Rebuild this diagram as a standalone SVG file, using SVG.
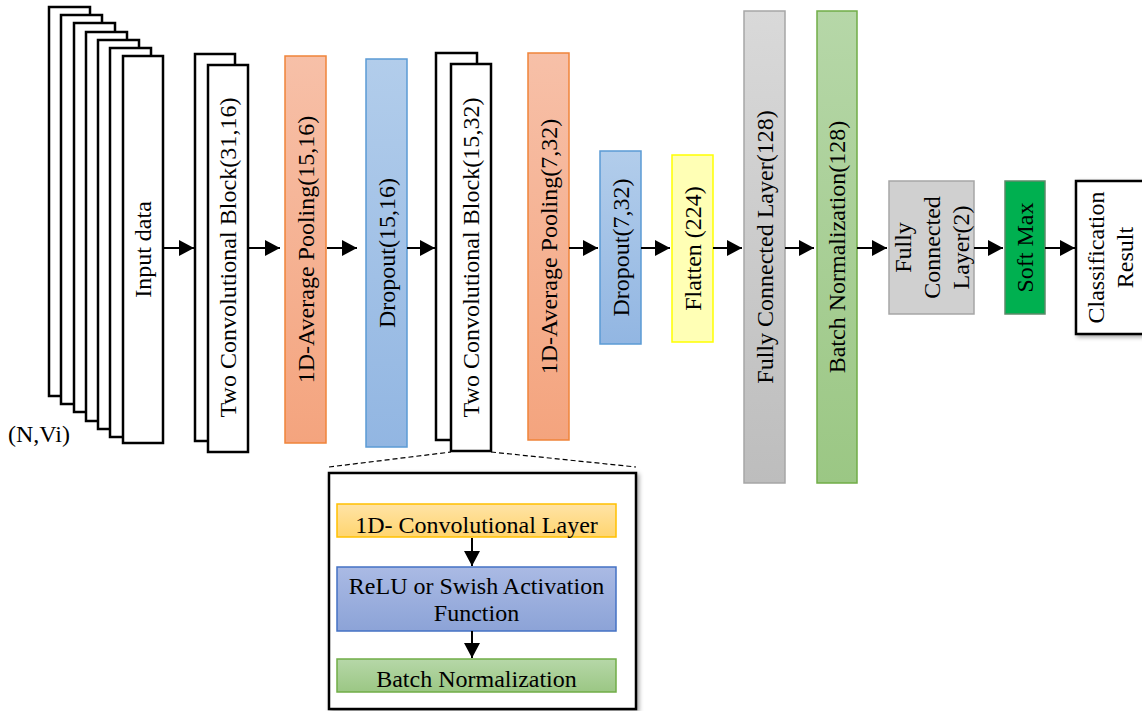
<svg xmlns="http://www.w3.org/2000/svg" width="1142" height="711" viewBox="0 0 1142 711">
<defs>
<linearGradient id="gSal" x1="0" y1="0" x2="0" y2="1"><stop offset="0" stop-color="#F7C0A8"/><stop offset="1" stop-color="#F4A47E"/></linearGradient>
<linearGradient id="gBlue" x1="0" y1="0" x2="0" y2="1"><stop offset="0" stop-color="#B2CDEB"/><stop offset="1" stop-color="#92B6E2"/></linearGradient>
<linearGradient id="gGray" x1="0" y1="0" x2="0" y2="1"><stop offset="0" stop-color="#D9D9D9"/><stop offset="1" stop-color="#BDBDBD"/></linearGradient>
<linearGradient id="gGreen" x1="0" y1="0" x2="0" y2="1"><stop offset="0" stop-color="#B6D7A8"/><stop offset="1" stop-color="#9BC784"/></linearGradient>
<linearGradient id="gOr" x1="0" y1="0" x2="0" y2="1"><stop offset="0" stop-color="#FFE3A6"/><stop offset="1" stop-color="#FFD56F"/></linearGradient>
<linearGradient id="gRelu" x1="0" y1="0" x2="0" y2="1"><stop offset="0" stop-color="#AABAE4"/><stop offset="1" stop-color="#8CA3D7"/></linearGradient>
<filter id="sh" x="-10%" y="-10%" width="130%" height="130%"><feDropShadow dx="2" dy="2" stdDeviation="2" flood-color="#000" flood-opacity="0.35"/></filter>
<marker id="ah" markerWidth="15" markerHeight="16" refX="15" refY="8" orient="auto" markerUnits="userSpaceOnUse"><path d="M0,0 L15,8 L0,16 Z" fill="#000"/></marker>
</defs>
<style>
text{font-family:"Liberation Serif","Times New Roman",serif;font-size:24px;fill:#000}
.wb{fill:#fff;stroke:#000;stroke-width:2.5}
.sal{fill:url(#gSal);stroke:#F0843A;stroke-width:1.5}
.blu{fill:url(#gBlue);stroke:#5B9BD5;stroke-width:1.5}
.gry{fill:url(#gGray);stroke:#A6A6A6;stroke-width:1.5}
.grn{fill:url(#gGreen);stroke:#70AD47;stroke-width:1.5}
.c{text-anchor:middle}
.arr{stroke:#000;stroke-width:2;fill:none;marker-end:url(#ah)}
.dash{stroke:#000;stroke-width:1.2;stroke-dasharray:5,3;fill:none}
</style>

<g id="input">
<rect class="wb" x="49" y="7" width="41" height="389"/>
<rect class="wb" x="61" y="15" width="41" height="389"/>
<rect class="wb" x="74" y="23" width="41" height="389"/>
<rect class="wb" x="86" y="32" width="41" height="389"/>
<rect class="wb" x="98" y="40" width="41" height="389"/>
<rect class="wb" x="110" y="48" width="41" height="389"/>
<rect class="wb" x="123" y="56" width="40" height="387"/>
<text class="c" transform="translate(151,249.5) rotate(-90)">Input data</text>
<text x="8" y="442">(N,Vi)</text>
</g>

<g id="conv1">
<rect class="wb" x="195" y="54" width="40" height="387"/>
<rect class="wb" x="208" y="65" width="40" height="387"/>
<text class="c" transform="translate(236,257.5) rotate(-90)" textLength="320" lengthAdjust="spacing">Two Convolutional Block(31,16)</text>
</g>

<g id="pool1">
<rect class="sal" x="285" y="56" width="41" height="387"/>
<text class="c" transform="translate(313.5,249.5) rotate(-90)">1D-Average Pooling(15,16)</text>
</g>

<g id="drop1">
<rect class="blu" x="366" y="59" width="41" height="388"/>
<text class="c" transform="translate(394.5,253) rotate(-90)">Dropout(15,16)</text>
</g>

<g id="conv2">
<rect class="wb" x="436" y="53" width="41" height="387"/>
<rect class="wb" x="451" y="64" width="40" height="387"/>
<text class="c" transform="translate(479,257.5) rotate(-90)" textLength="320" lengthAdjust="spacing">Two Convolutional Block(15,32)</text>
</g>

<g id="pool2">
<rect class="sal" x="528" y="53" width="41" height="387"/>
<text class="c" transform="translate(556.5,246.5) rotate(-90)">1D-Average Pooling(7,32)</text>
</g>

<g id="drop2">
<rect class="blu" x="600" y="151" width="41" height="193"/>
<text class="c" transform="translate(628.5,247.5) rotate(-90)">Dropout(7,32)</text>
</g>

<g id="flatten">
<rect x="672" y="155" width="41" height="187" fill="#FFFFB5" stroke="#FFFF00" stroke-width="1.5"/>
<text class="c" transform="translate(700.5,248.5) rotate(-90)">Flatten (224)</text>
</g>

<g id="fc128">
<rect class="gry" x="744" y="11" width="41" height="472"/>
<text class="c" transform="translate(772.5,247) rotate(-90)">Fully Connected Layer(128)</text>
</g>

<g id="bn128">
<rect class="grn" x="817" y="11" width="40" height="472"/>
<text class="c" transform="translate(845,247) rotate(-90)">Batch Normalization(128)</text>
</g>

<g id="fc2">
<rect x="889" y="181" width="85" height="133" fill="#D0D0D0" stroke="#A6A6A6" stroke-width="1.5"/>
<text class="c" transform="translate(911,247.5) rotate(-90)">Fully</text>
<text class="c" transform="translate(939.5,247.5) rotate(-90)">Connected</text>
<text class="c" transform="translate(968.5,247.5) rotate(-90)">Layer(2)</text>
</g>

<g id="softmax">
<rect x="1005" y="181" width="40" height="133" fill="#00B050" stroke="#5E8A6A" stroke-width="1.5"/>
<text class="c" transform="translate(1033,247.5) rotate(-90)">Soft Max</text>
</g>

<g id="result">
<rect x="1076" y="181" width="72" height="153" fill="#fff" stroke="#000" stroke-width="2.5" filter="url(#sh)"/>
<text class="c" transform="translate(1104,257.5) rotate(-90)">Classification</text>
<text class="c" transform="translate(1133,257.5) rotate(-90)">Result</text>
</g>

<g id="detail">
<rect x="329" y="473" width="307" height="236" fill="#fff" stroke="#000" stroke-width="2.5" filter="url(#sh)"/>
<g id="d-conv">
<rect x="337" y="504" width="279" height="33" fill="url(#gOr)" stroke="#FFC000" stroke-width="1.5"/>
<text class="c" x="476.5" y="533">1D- Convolutional Layer</text>
</g>
<g id="d-relu">
<rect x="337" y="567" width="279" height="64" fill="url(#gRelu)" stroke="#4472C4" stroke-width="1.5"/>
<text class="c" x="476.5" y="594">ReLU or Swish Activation</text>
<text class="c" x="476.5" y="621">Function</text>
</g>
<g id="d-bn">
<rect class="grn" x="337" y="659" width="279" height="33"/>
<text class="c" x="476.5" y="687">Batch Normalization</text>
</g>
</g>

<g id="connectors">
<line class="arr" x1="163" y1="248" x2="194" y2="248"/>
<line class="arr" x1="249" y1="248" x2="280" y2="248"/>
<line class="arr" x1="327" y1="248" x2="357" y2="248"/>
<line class="arr" x1="407" y1="248" x2="435" y2="248"/>
<line class="arr" x1="569" y1="248" x2="598" y2="248"/>
<line class="arr" x1="641" y1="248" x2="670" y2="248"/>
<line class="arr" x1="713" y1="248" x2="742" y2="248"/>
<line class="arr" x1="785" y1="248" x2="814" y2="248"/>
<line class="arr" x1="857" y1="248" x2="887" y2="248"/>
<line class="arr" x1="974" y1="248" x2="1003" y2="248"/>
<line class="arr" x1="1045" y1="248" x2="1075" y2="248"/>
<line class="arr" x1="472" y1="538" x2="472" y2="566"/>
<line class="arr" x1="472" y1="631" x2="472" y2="658"/>
<line class="dash" x1="329" y1="467" x2="451" y2="452"/>
<line class="dash" x1="491" y1="452" x2="636" y2="467"/>
</g>
</svg>
